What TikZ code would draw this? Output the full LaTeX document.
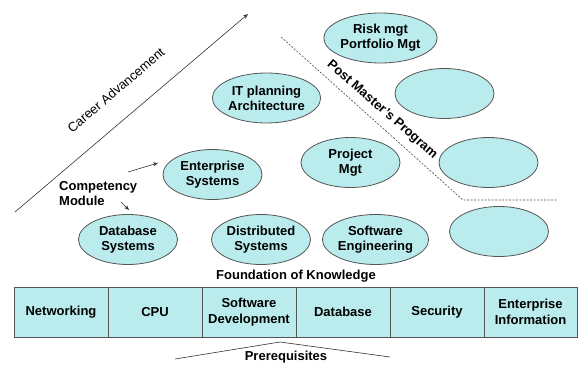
\documentclass[tikz,border=0pt]{standalone}
\usepackage{fontspec}
\setmainfont{Liberation Sans}
\usetikzlibrary{shapes.geometric,arrows.meta}
\definecolor{cyanfill}{RGB}{186,236,238}
\definecolor{edgegray}{RGB}{85,85,85}
\tikzset{
  oval/.style={ellipse, draw=edgegray, line width=0.8pt, fill=cyanfill, minimum width=99pt, minimum height=50pt, inner sep=0pt, align=center, font=\fontsize{13}{15}\selectfont\bfseries},
  cell/.style={rectangle, draw=edgegray, line width=0.8pt, fill=cyanfill, minimum width=94pt, minimum height=50pt, inner sep=0pt, align=center, font=\fontsize{13}{15.5}\selectfont\bfseries},
  lbl/.style={font=\fontsize{13}{15}\selectfont\bfseries, inner sep=0pt},
  conn/.style={draw=black!80, line width=0.6pt},
  ptr/.style={conn, -{Stealth[length=5pt,width=4pt]}},
}
\begin{document}
\begin{tikzpicture}[x=1pt,y=-1pt]
\useasboundingbox (0,0) rectangle (578,367);
% career advancement arrow
\coordinate (cs) at (15,212);
\coordinate (ce) at (248,14);
\draw[ptr] (cs) -- (ce);
\node[font=\fontsize{13}{15}\selectfont, inner sep=0pt, rotate=40.5] (career) at (116,90) {Career Advancement};
% post master's dashed line
\coordinate (p1) at (281,37);
\coordinate (p2) at (463,200);
\coordinate (p3) at (558,200);
\draw[draw=black!70, line width=0.6pt, dash pattern=on 2pt off 1.5pt] (p1) -- (p2) -- (p3);
\node[lbl, rotate=-41] (post) at (382,110) {Post Master's Program};
% ellipses
\node[oval] (risk) at (380.5,38) {Risk mgt\\Portfolio Mgt};
\node[oval] (e2) at (444.5,93.5) {};
\node[oval] (e3) at (488.5,162.5) {};
\node[oval] (e4) at (499,231.5) {};
\node[oval] (itp) at (266.5,98) {IT planning\\Architecture};
\node[oval] (proj) at (350.5,162.5) {Project\\Mgt};
\node[oval] (ent) at (212.5,174.5) {Enterprise\\Systems};
\node[oval] (dbs) at (128,239.5) {Database\\Systems};
\node[oval] (dist) at (261,239.5) {Distributed\\Systems};
\node[oval] (swe) at (375.5,239.5) {Software\\Engineering};
% competency module
\node[lbl, align=left, anchor=west] (comp) at (59,194) {Competency\\Module};
\coordinate (a1s) at (128,172);
\coordinate (a1e) at (158,163);
\coordinate (a2s) at (121,202);
\coordinate (a2e) at (129,210);
\draw[ptr] (a1s) -- (a1e);
\draw[ptr] (a2s) -- (a2e);
% foundation
\node[lbl] (found) at (296,276) {Foundation of Knowledge};
\node[cell] (net) at (61,312) {Networking};
\node[cell] (cpu) at (155,312) {CPU};
\node[cell] (swd) at (249,312) {Software\\Development};
\node[cell] (db) at (343,312) {Database};
\node[cell] (sec) at (437,312) {Security};
\node[cell, minimum width=93pt] (entinf) at (530.5,312) {Enterprise\\Information};
% prerequisites
\coordinate (q1) at (175,359);
\coordinate (q2) at (280,342);
\coordinate (q3) at (390,357);
\draw[conn] (q1) -- (q2) -- (q3);
\node[lbl] (prereq) at (286,357) {Prerequisites};
\end{tikzpicture}
\end{document}
